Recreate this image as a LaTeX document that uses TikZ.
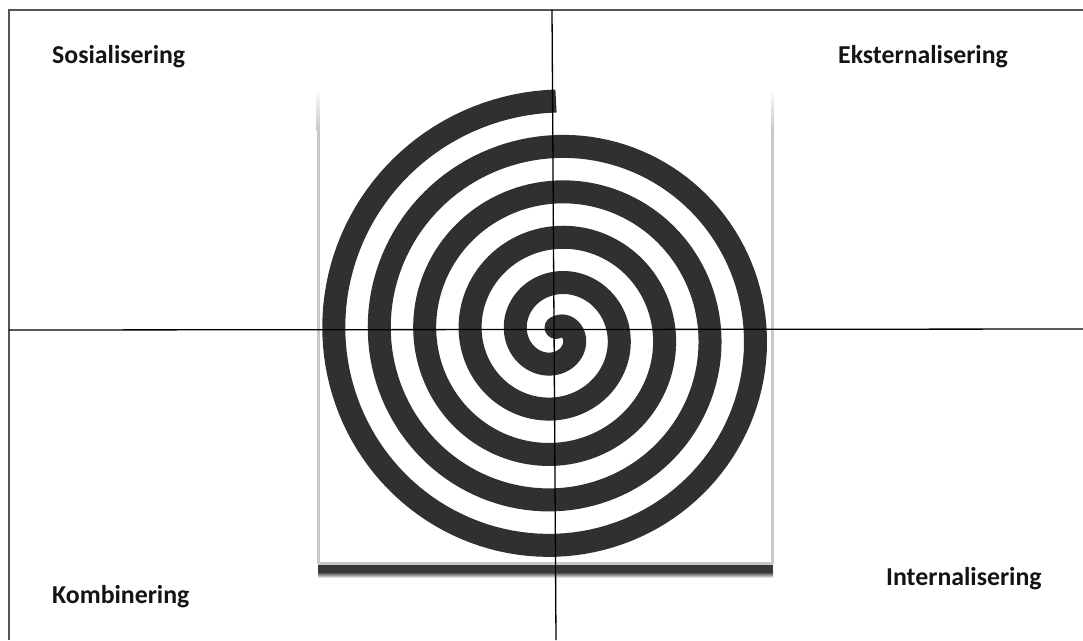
\documentclass[tikz,border=0pt]{standalone}
\usepackage{fontspec}
\setmainfont{Carlito}
\definecolor{spiralc}{RGB}{47,49,49}
\definecolor{framec}{RGB}{85,85,85}
\definecolor{edgec}{RGB}{200,200,200}
\definecolor{shadowc}{RGB}{55,57,57}
\begin{document}
\begin{tikzpicture}[x=1pt,y=-1pt,
  lbl/.style={anchor=base west,inner sep=0pt,font=\fontsize{25.8}{30}\selectfont\bfseries,text=black!92},
  spiralline/.style={draw=spiralc,line width=23pt,line cap=butt,line join=round},
  axisline/.style={draw=black,line width=1.3pt},
  outerframe/.style={draw=framec,line width=2pt}]
\useasboundingbox (0,0) rectangle (1083,640);
\fill[white] (0,0) rectangle (1083,640);
% picture frame of the spiral image
\shade[top color=white,bottom color=edgec] (316.5,88) rectangle (319.5,130);
\fill[edgec] (316.5,130) rectangle (319.5,564);
\shade[top color=white,bottom color=edgec] (771,88) rectangle (774,130);
\fill[edgec] (771,130) rectangle (774,564);
\fill[edgec] (318,562) rectangle (773,564.5);
\fill[shadowc] (318,564.5) rectangle (773,572);
\shade[top color=shadowc,bottom color=white] (318,572) rectangle (773,578);
% spiral
\coordinate (sc) at (556,327.5);
\fill[spiralc] (sc) circle[radius=11.5pt];
\path[spiralline] plot[domain=0:1800,samples=721,variable=\t]
  ({556+(6+0.126389*\t)*sin(\t)},{334.5-(6+0.126389*\t)*cos(\t)});
% outer frame
\coordinate (tl) at (9,10);
\coordinate (tr) at (1083,10);
\coordinate (bl) at (9,640);
\draw[outerframe] (bl) -- (tl) -- (tr);
% axes
\coordinate (vt) at (552,10);
\coordinate (vb) at (556,640);
\coordinate (hl) at (9,330);
\coordinate (hr) at (1083,329);
\draw[axisline] (vt) -- (vb);
\draw[axisline] (hl) -- (hr);
% labels
\node[lbl] (sos) at (52,63) {Sosialisering};
\node[lbl] (eks) at (838,63) {Eksternalisering};
\node[lbl] (kom) at (52,603) {Kombinering};
\node[lbl] (int) at (886,585) {Internalisering};
\end{tikzpicture}
\end{document}
